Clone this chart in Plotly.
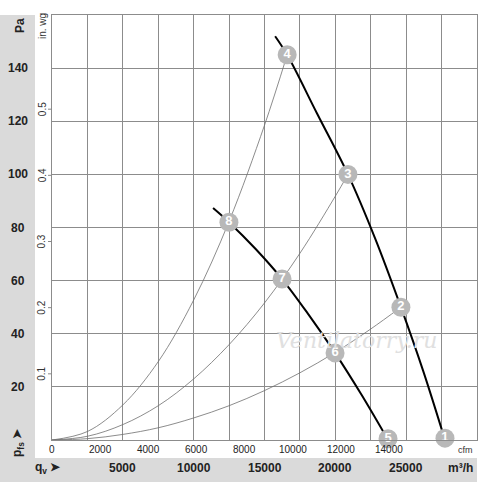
import plotly.graph_objects as go

# fan curves (m3/h, Pa)
fan_hi_q = [15750, 16600, 18700, 20890, 22800, 24630, 26200, 27740]
fan_hi_p = [152, 145, 123, 100, 76, 50, 26, 0]
fan_lo_q = [11370, 12490, 14360, 16240, 18100, 19980, 21850, 23720]
fan_lo_p = [87.3, 82, 72, 60.6, 47.3, 32.8, 17, 0]

# system curves
sys_a_q = [0, 2500, 5000, 7500, 10000, 12500, 15000, 16600]
sys_a_p = [0, 3.2, 13.2, 29.5, 52.7, 82.3, 118.5, 145]
sys_b_q = [0, 2500, 5000, 7500, 10000, 12500, 15000, 17500, 20000, 20890]
sys_b_p = [0, 1.4, 5.8, 12.9, 23, 35.9, 51.6, 70.3, 91.8, 100]
sys_c_q = [0, 2500, 5000, 7500, 10000, 12500, 15000, 17500, 20000, 22500, 24630]
sys_c_p = [0, 0.5, 2.1, 4.6, 8.3, 12.9, 18.6, 25.3, 33, 41.8, 50]

# numbered operating points
pt_labels = ['1', '2', '3', '4', '5', '6', '7', '8']
pt_q = [27740, 24630, 20890, 16600, 23720, 19980, 16240, 12490]
pt_p = [0.7, 50, 100, 145, 0.5, 32.8, 60.6, 82]

pa_ticks = [20, 40, 60, 80, 100, 120, 140]
inwg_ticks = [0.1, 0.2, 0.3, 0.4, 0.5]
cfm_ticks = [0, 2000, 4000, 6000, 8000, 10000, 12000, 14000]
m3h_ticks = [5000, 10000, 15000, 20000, 25000]

W, H = 500, 482
L, R, T, B = 52, 23, 15, 42
pw = W - L - R
ph = H - T - B

def px(x):
    return (x - L) / pw

def py(y):
    return (H - B - y) / ph

def label(x, y, text, size, bold=False, color='#222', xref='paper', yref='paper', angle=0):
    f = dict(size=size, color=color, family='Liberation Sans')
    if bold:
        f['weight'] = 'bold'
    return dict(x=x, y=y, xref=xref, yref=yref, text=text, textangle=angle, showarrow=False,
                xanchor='center', yanchor='middle', font=f)

fig = go.Figure()

for q, p in [(sys_a_q, sys_a_p), (sys_b_q, sys_b_p), (sys_c_q, sys_c_p)]:
    fig.add_trace(go.Scatter(x=q, y=p, mode='lines', line=dict(color='#6e6e6e', width=0.8, shape='spline'),
                             hoverinfo='skip'))
for q, p in [(fan_hi_q, fan_hi_p), (fan_lo_q, fan_lo_p)]:
    fig.add_trace(go.Scatter(x=q, y=p, mode='lines', line=dict(color='black', width=2, shape='spline'),
                             hoverinfo='skip'))

fig.add_trace(go.Scatter(x=pt_q, y=pt_p, mode='markers+text', text=pt_labels,
                         textposition='middle center', cliponaxis=False, hoverinfo='skip',
                         marker=dict(size=19, color='#b8b8b8'),
                         textfont=dict(color='white', size=13, family='Liberation Sans', weight='bold')))

# grey bands
fig.add_shape(type='rect', xref='paper', yref='paper', x0=px(0), x1=px(35), y0=py(482), y1=py(15),
              fillcolor='#dadada', line_width=0, layer='below')
fig.add_shape(type='rect', xref='paper', yref='paper', x0=px(0), x1=px(477), y0=py(482), y1=py(458),
              fillcolor='#dadada', line_width=0, layer='below')

ann = []
for v in pa_ticks:
    ann.append(label(px(18), v, str(v), 12, bold=True, yref='y'))
ann.append(label(px(20), py(26), 'Pa', 12, bold=True, angle=-90))
ann.append(label(px(42), py(26), 'in. wg', 10, color='#333', angle=-90))
for v in inwg_ticks:
    pa = v * 249.09
    ann.append(label(px(42), pa, str(v), 10, color='#333', yref='y', angle=-90))
    fig.add_shape(type='line', xref='paper', yref='y', x0=px(48), x1=px(52), y0=pa, y1=pa,
                  line=dict(color='#888', width=1))
ann.append(label(px(18), py(443), 'p<sub>fs</sub> ➤', 12, bold=True, angle=-90))
for v in cfm_ticks:
    ann.append(label(v * 1.699, py(449), str(v), 10, xref='x'))
ann.append(label(px(465), py(450), 'cfm', 9, color='#333'))
for v in m3h_ticks:
    ann.append(label(v, py(468), str(v), 12, bold=True, xref='x'))
ann.append(label(px(460), py(468), 'm³/h', 12, bold=True))
ann.append(label(px(48), py(468), 'q<sub>v</sub> ➤', 12, bold=True))
wm = label(px(356), py(340), 'Ventilatorry.ru', 22, color='#e0e0e0')
wm['font'] = dict(size=22, color='#e0e0e0', family='DejaVu Serif', style='italic')
ann.append(wm)

fig.update_layout(
    width=W, height=H, margin=dict(l=L, r=R, t=T, b=B),
    paper_bgcolor='white', plot_bgcolor='white', showlegend=False,
    annotations=ann,
    xaxis=dict(range=[0, 30000], dtick=2500, showticklabels=False, ticks='', zeroline=False,
               showgrid=True, gridcolor='#8c8c8c', gridwidth=1,
               showline=True, mirror=True, linecolor='#8c8c8c', linewidth=1, fixedrange=True),
    yaxis=dict(range=[0, 160], dtick=20, showticklabels=False, ticks='', zeroline=False,
               showgrid=True, gridcolor='#8c8c8c', gridwidth=1,
               showline=True, mirror=True, linecolor='#8c8c8c', linewidth=1, fixedrange=True),
)

# page has a default 8px body margin, drop it so the chart sits at the window corner
fig.write_html("out.html", config={'displayModeBar': False},
               post_script="document.body.style.margin='0';")
